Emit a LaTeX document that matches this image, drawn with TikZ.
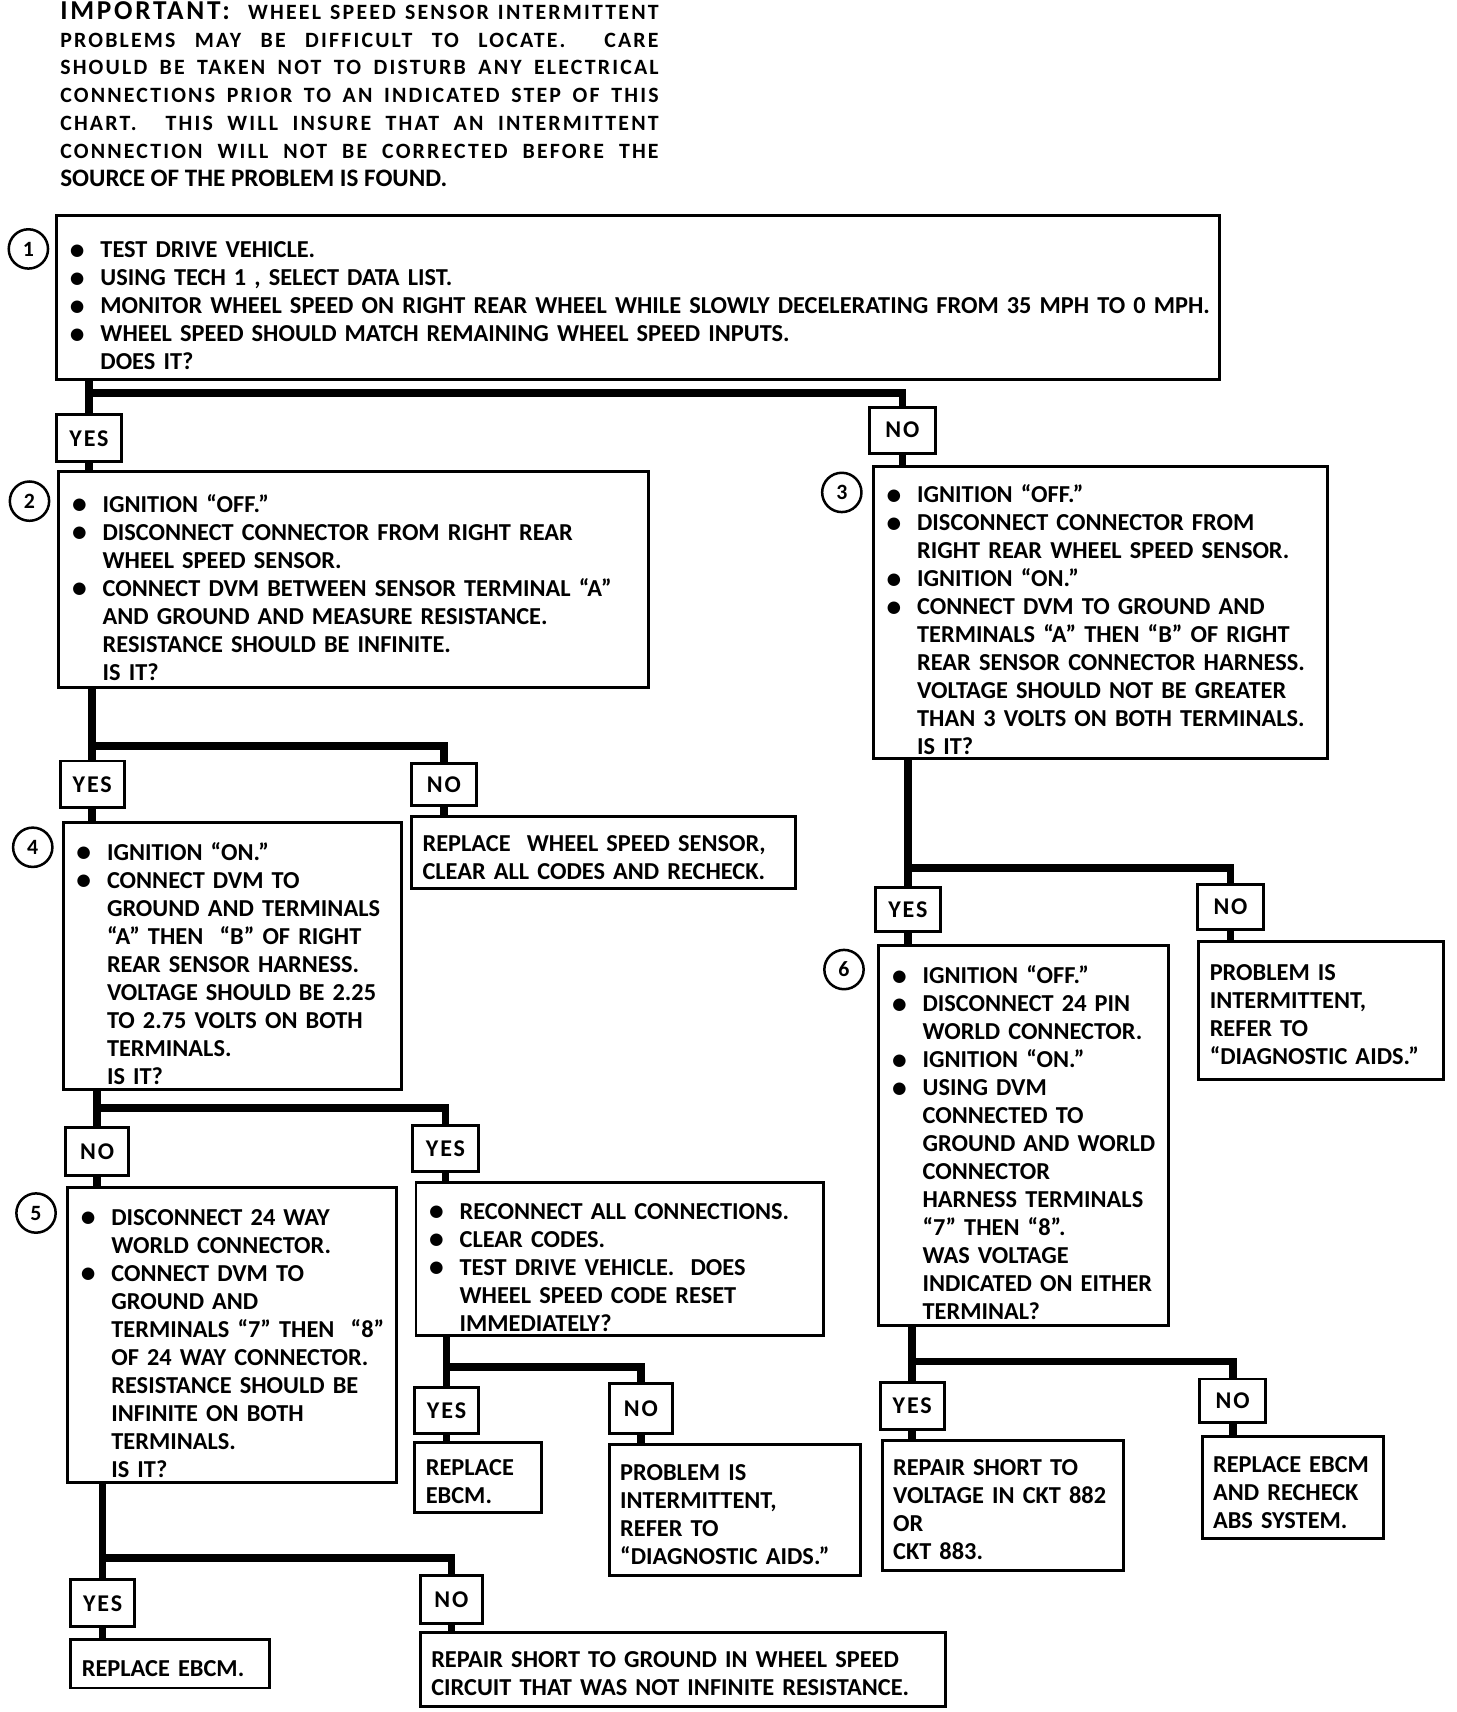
\documentclass[tikz,border=0pt]{standalone}
\usepackage{fontspec}
\setmainfont{Carlito}
\newfontfamily\hdfont{Carlito}[LetterSpace=10]
\newfontfamily\lblfont{Carlito}[LetterSpace=8]
\newcommand\bodyf{\fontsize{22.3}{25.65}\selectfont\bfseries}
\newcommand\bul{\makebox[28pt][l]{\raisebox{-1.2pt}{\fontsize{27}{27}\selectfont\textbullet}}}
\newcommand\bu[1]{\mbox{\bul#1}}
\newcommand\ii[1]{\mbox{\hspace*{28pt}#1}}
\newcommand\pl[1]{\mbox{#1}}
\newcommand\hl[1]{\noindent\makebox[548pt][s]{#1}\par}
\begin{document}
\begin{tikzpicture}[x=1pt,y=1pt,
  box/.style={draw, line width=2.7pt, anchor=north west, outer sep=0pt,
    inner xsep=12pt, inner ysep=0pt, align=left, font=\bodyf,
    execute at begin node={\rule{0pt}{30pt}}},
  pbox/.style={draw, line width=2.7pt, anchor=north west, outer sep=0pt,
    inner xsep=10pt, inner ysep=0pt, align=left, font=\bodyf,
    execute at begin node={\rule{0pt}{23pt}}},
  lbl/.style={draw, line width=2.7pt, anchor=north west, outer sep=0pt,
    inner sep=0pt, align=center, font=\lblfont\bfseries\fontsize{22}{22}\selectfont},
  circ/.style={draw, circle, line width=2.3pt, minimum size=36pt, inner sep=0pt,
    font=\fontsize{20}{20}\selectfont\bfseries},
  conn/.style={line width=7pt}]
\useasboundingbox (0,0) rectangle (1334,-1568);

% header
\node[anchor=north west, inner sep=0pt, align=justify, text width=548pt,
  font=\hdfont\bfseries\fontsize{20}{25.5}\selectfont] (hdr) at (55,-1)
{\hl{{\fontsize{25}{25.5}\selectfont IMPORTANT:}\ \ WHEEL SPEED SENSOR INTERMITTENT}
 \hl{PROBLEMS MAY BE DIFFICULT TO LOCATE.\ \ CARE}
 \hl{SHOULD BE TAKEN NOT TO DISTURB ANY ELECTRICAL}
 \hl{CONNECTIONS PRIOR TO AN INDICATED STEP OF THIS}
 \hl{CHART.\ \ THIS WILL INSURE THAT AN INTERMITTENT}
 \hl{CONNECTION WILL NOT BE CORRECTED BEFORE THE}
 \noindent{\rmfamily\fontsize{23}{25.5}\selectfont SOURCE OF THE PROBLEM IS FOUND.}\par};

% step boxes
\node[box, minimum width=1065pt, minimum height=151pt, text width=1041pt] (b1) at (52,-197)
{\bu{TEST DRIVE VEHICLE.}\\
 \bu{USING TECH 1 , SELECT DATA LIST.}\\
 \bu{MONITOR WHEEL SPEED ON RIGHT REAR WHEEL WHILE SLOWLY DECELERATING FROM 35 MPH TO 0 MPH.}\\
 \bu{WHEEL SPEED SHOULD MATCH REMAINING WHEEL SPEED INPUTS.}\\
 \ii{DOES IT?}};

\node[box, minimum width=540pt, minimum height=198pt, text width=516pt] (b2) at (54,-432)
{\bu{IGNITION “OFF.”}\\
 \bu{DISCONNECT CONNECTOR FROM RIGHT REAR}\\
 \ii{WHEEL SPEED SENSOR.}\\
 \bu{CONNECT DVM BETWEEN SENSOR TERMINAL “A”}\\
 \ii{AND GROUND AND MEASURE RESISTANCE.}\\
 \ii{RESISTANCE SHOULD BE INFINITE.}\\
 \ii{IS IT?}};

\node[box, minimum width=416pt, minimum height=268pt, text width=392pt] (b3) at (800,-427)
{\bu{IGNITION “OFF.”}\\
 \bu{DISCONNECT CONNECTOR FROM}\\
 \ii{RIGHT REAR WHEEL SPEED SENSOR.}\\
 \bu{IGNITION “ON.”}\\
 \bu{CONNECT DVM TO GROUND AND}\\
 \ii{TERMINALS “A” THEN “B” OF RIGHT}\\
 \ii{REAR SENSOR CONNECTOR HARNESS.}\\
 \ii{VOLTAGE SHOULD NOT BE GREATER}\\
 \ii{THAN 3 VOLTS ON BOTH TERMINALS.}\\
 \ii{IS IT?}};

\node[box, minimum width=310pt, minimum height=245pt, text width=286pt] (b4) at (58,-753)
{\bu{IGNITION “ON.”}\\
 \bu{CONNECT DVM TO}\\
 \ii{GROUND AND TERMINALS}\\
 \ii{“A” THEN \ “B” OF RIGHT}\\
 \ii{REAR SENSOR HARNESS.}\\
 \ii{VOLTAGE SHOULD BE 2.25}\\
 \ii{TO 2.75 VOLTS ON BOTH}\\
 \ii{TERMINALS.}\\
 \ii{IS IT?}};

\node[box, minimum width=301pt, minimum height=270pt, text width=277pt] (b5) at (62,-1088)
{\bu{DISCONNECT 24 WAY}\\
 \ii{WORLD CONNECTOR.}\\
 \bu{CONNECT DVM TO}\\
 \ii{GROUND AND}\\
 \ii{TERMINALS “7” THEN \ “8”}\\
 \ii{OF 24 WAY CONNECTOR.}\\
 \ii{RESISTANCE SHOULD BE}\\
 \ii{INFINITE ON BOTH}\\
 \ii{TERMINALS.}\\
 \ii{IS IT?}};

\node[box, minimum width=265pt, minimum height=348pt, text width=241pt] (b6) at (805,-866)
{\bu{IGNITION “OFF.”}\\
 \bu{DISCONNECT 24 PIN}\\
 \ii{WORLD CONNECTOR.}\\
 \bu{IGNITION “ON.”}\\
 \bu{USING DVM}\\
 \ii{CONNECTED TO}\\
 \ii{GROUND AND WORLD}\\
 \ii{CONNECTOR}\\
 \ii{HARNESS TERMINALS}\\
 \ii{“7” THEN “8”.}\\
 \ii{WAS VOLTAGE}\\
 \ii{INDICATED ON EITHER}\\
 \ii{TERMINAL?}};

\node[box, minimum width=373pt, minimum height=140pt, text width=349pt] (brc) at (381,-1083)
{\bu{RECONNECT ALL CONNECTIONS.}\\
 \bu{CLEAR CODES.}\\
 \bu{TEST DRIVE VEHICLE.\ \ DOES}\\
 \ii{WHEEL SPEED CODE RESET}\\
 \ii{IMMEDIATELY?}};

% result boxes
\node[pbox, minimum width=352pt, minimum height=66pt, text width=332pt] (bws) at (377,-748)
{\pl{REPLACE \ WHEEL SPEED SENSOR,}\\ \pl{CLEAR ALL CODES AND RECHECK.}};
\node[pbox, minimum width=116pt, minimum height=64pt, text width=96pt] (be1) at (380,-1321)
{\pl{REPLACE}\\ \pl{EBCM.}};
\node[pbox, minimum width=230pt, minimum height=120pt, text width=210pt] (bpi1) at (558,-1323)
{\pl{PROBLEM IS}\\ \pl{INTERMITTENT,}\\ \pl{REFER TO}\\ \pl{“DIAGNOSTIC AIDS.”}};
\node[pbox, minimum width=182pt, minimum height=44pt, text width=162pt] (be2) at (65,-1502)
{\pl{REPLACE EBCM.}};
\node[pbox, minimum width=481pt, minimum height=68pt, text width=461pt] (brs) at (385,-1495)
{\pl{REPAIR SHORT TO GROUND IN WHEEL SPEED}\\ \pl{CIRCUIT THAT WAS NOT INFINITE RESISTANCE.}};
\node[pbox, minimum width=224pt, minimum height=127pt, text width=204pt] (bpi2) at (1098,-862)
{\pl{PROBLEM IS}\\ \pl{INTERMITTENT,}\\ \pl{REFER TO}\\ \pl{“DIAGNOSTIC AIDS.”}};
\node[pbox, minimum width=221pt, minimum height=119pt, text width=201pt] (bsv) at (808,-1319)
{\pl{REPAIR SHORT TO}\\ \pl{VOLTAGE IN CKT 882}\\ \pl{OR}\\ \pl{CKT 883.}};
\node[pbox, minimum width=166pt, minimum height=93pt, text width=146pt] (bea) at (1101,-1316)
{\pl{REPLACE EBCM}\\ \pl{AND RECHECK}\\ \pl{ABS SYSTEM.}};

% step numbers
\node[circ] (c1) at (26,-228) {1};
\node[circ] (c2) at (27,-459) {2};
\node[circ] (c3) at (771,-451) {3};
\node[circ] (c4) at (30,-776) {4};
\node[circ] (c5) at (33,-1111) {5};
\node[circ] (c6) at (773,-888) {6};

% YES / NO labels
\node[lbl, minimum width=59pt, minimum height=43pt] (y1) at (52,-380) {YES};
\node[lbl, minimum width=61pt, minimum height=42pt] (n1) at (796,-373) {NO};
\node[lbl, minimum width=59pt, minimum height=43pt] (y2) at (55,-697) {YES};
\node[lbl, minimum width=59pt, minimum height=39pt] (n2) at (377,-699) {NO};
\node[lbl, minimum width=58pt, minimum height=44pt] (n4) at (60,-1033) {NO};
\node[lbl, minimum width=60pt, minimum height=42pt] (y4) at (378,-1031) {YES};
\node[lbl, minimum width=58pt, minimum height=42pt] (yr) at (380,-1271) {YES};
\node[lbl, minimum width=58pt, minimum height=46pt] (nr) at (558,-1267) {NO};
\node[lbl, minimum width=58pt, minimum height=43pt] (y5) at (65,-1447) {YES};
\node[lbl, minimum width=57pt, minimum height=44pt] (n5) at (385,-1443) {NO};
\node[lbl, minimum width=59pt, minimum height=40pt] (y3) at (802,-813) {YES};
\node[lbl, minimum width=60pt, minimum height=41pt] (n3) at (1097,-810) {NO};
\node[lbl, minimum width=59pt, minimum height=43pt] (y6) at (806,-1266) {YES};
\node[lbl, minimum width=60pt, minimum height=40pt] (n6) at (1099,-1263) {NO};

% junction levels
\coordinate (j1) at (0,-360);
\coordinate (j2) at (0,-683);
\coordinate (j4) at (0,-1015);
\coordinate (jr) at (0,-1252);
\coordinate (j5) at (0,-1427);
\coordinate (j3) at (0,-795);
\coordinate (j6) at (0,-1247);

% connectors
\draw[conn] (b1.south -| y1.north) -- (y1.north);
\draw[conn] (y1.north |- j1) -| (n1.north);
\draw[conn] (y1.south) -- (y1.south |- b2.north);
\draw[conn] (n1.south) -- (n1.south |- b3.north);

\draw[conn] (b2.south -| y2.north) -- (y2.north);
\draw[conn] (y2.north |- j2) -| (n2.north);
\draw[conn] (y2.south) -- (y2.south |- b4.north);
\draw[conn] (n2.south) -- (n2.south |- bws.north);

\draw[conn] (b4.south -| n4.north) -- (n4.north);
\draw[conn] (n4.north |- j4) -| (y4.north);
\draw[conn] (n4.south) -- (n4.south |- b5.north);
\draw[conn] (y4.south) -- (y4.south |- brc.north);

\draw[conn] (brc.south -| yr.north) -- (yr.north);
\draw[conn] (yr.north |- jr) -| (nr.north);
\draw[conn] (yr.south) -- (yr.south |- be1.north);
\draw[conn] (nr.south) -- (nr.south |- bpi1.north);

\draw[conn] (b5.south -| y5.north) -- (y5.north);
\draw[conn] (y5.north |- j5) -| (n5.north);
\draw[conn] (y5.south) -- (y5.south |- be2.north);
\draw[conn] (n5.south) -- (n5.south |- brs.north);

\draw[conn] (b3.south -| y3.north) -- (y3.north);
\draw[conn] (y3.north |- j3) -| (n3.north);
\draw[conn] (y3.south) -- (y3.south |- b6.north);
\draw[conn] (n3.south) -- (n3.south |- bpi2.north);

\draw[conn] (b6.south -| y6.north) -- (y6.north);
\draw[conn] (y6.north |- j6) -| (n6.north);
\draw[conn] (y6.south) -- (y6.south |- bsv.north);
\draw[conn] (n6.south) -- (n6.south |- bea.north);
\end{tikzpicture}
\end{document}
